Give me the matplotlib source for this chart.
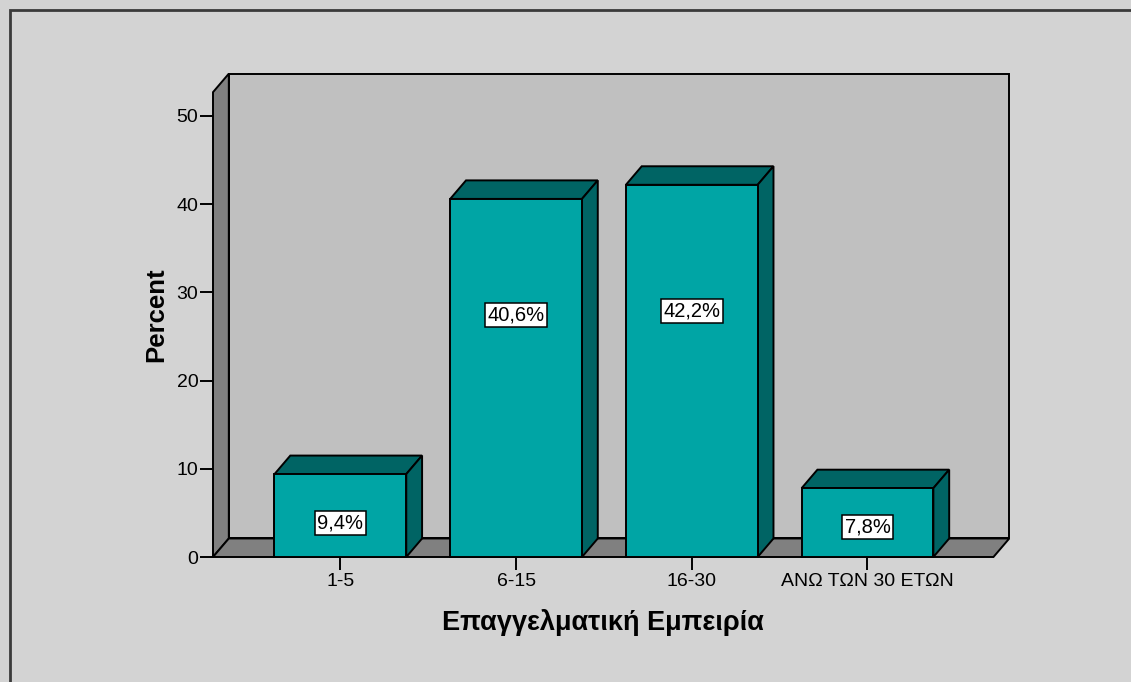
import matplotlib.pyplot as plt
from matplotlib.patches import Polygon, Rectangle

plt.rcParams['font.family'] = ['Liberation Sans', 'DejaVu Sans']

# Επαγγελματική εμπειρία (έτη) - ποσοστά
categories = ['1-5', '6-15', '16-30', 'ΑΝΩ ΤΩΝ 30 ΕΤΩΝ']
percent = [9.4, 40.6, 42.2, 7.8]
label_pos = [3.9, 27.4, 27.9, 3.4]   # ύψος ετικέτας μέσα στη στήλη

front = '#00a5a5'
dark = '#006464'
wall = '#c0c0c0'
side = '#808080'
bg = '#d3d3d3'

fig = plt.figure(figsize=(11.31, 6.82), dpi=100, facecolor=bg)
# πλαίσιο γύρω από το γράφημα
fig.patches.append(Rectangle((10 / 1131, -0.01), 1.02, 1 - 10 / 682 + 0.01,
                             transform=fig.transFigure, fill=False,
                             edgecolor='#3a3a3a', linewidth=2))

xmin, xmax = -0.725, 3.717
ymax = 55
ax = fig.add_axes([213 / 1131, (682 - 557) / 682,
                   (xmax - xmin) * 175.7 / 1131, ymax * 8.82 / 682])
ax.set_xlim(xmin, xmax)
ax.set_ylim(0, ymax)
ax.set_facecolor('none')
for s in ax.spines.values():
    s.set_visible(False)

dx, dy = 0.09, 2.1     # βάθος της τρισδιάστατης όψης
top = 52.7
lw = 1.4

# πίσω τοίχος, πλαϊνός τοίχος και δάπεδο
ax.add_patch(Polygon([(xmin + dx, dy), (xmax + dx, dy), (xmax + dx, top + dy),
                      (xmin + dx, top + dy)], closed=True, facecolor=wall,
                     edgecolor='black', lw=lw, clip_on=False, zorder=1))
ax.add_patch(Polygon([(xmin, 0), (xmin + dx, dy), (xmin + dx, top + dy),
                      (xmin, top)], closed=True, facecolor=side,
                     edgecolor='black', lw=lw, clip_on=False, zorder=2))
ax.add_patch(Polygon([(xmin, 0), (xmax, 0), (xmax + dx, dy), (xmin + dx, dy)],
                     closed=True, facecolor=side, edgecolor='black', lw=lw,
                     clip_on=False, zorder=2))

w = 0.75
for i, v in enumerate(percent):
    l, r = i - w / 2, i + w / 2
    ax.add_patch(Polygon([(l, v), (r, v), (r + dx, v + dy), (l + dx, v + dy)],
                         closed=True, facecolor=dark, edgecolor='black',
                         lw=lw, clip_on=False, zorder=3))
    ax.add_patch(Polygon([(r, 0), (r + dx, dy), (r + dx, v + dy), (r, v)],
                         closed=True, facecolor=dark, edgecolor='black',
                         lw=lw, clip_on=False, zorder=3))
    ax.add_patch(Rectangle((l, 0), w, v, facecolor=front, edgecolor='black',
                           lw=lw, clip_on=False, zorder=4))
    ax.text(i, label_pos[i], f'{v:.1f}%'.replace('.', ','), ha='center',
            va='center', fontsize=14.5, zorder=5,
            bbox=dict(boxstyle='square,pad=0.12', facecolor='white',
                      edgecolor='black', lw=1.1))

ax.set_xticks(range(len(categories)))
ax.set_xticklabels(categories)
ax.set_yticks(range(0, 51, 10))
ax.tick_params(axis='both', direction='out', length=9.5, width=1.4,
               labelsize=14, colors='black')
ax.tick_params(axis='x', pad=2)
ax.tick_params(axis='y', pad=1)

ax.set_ylabel('Percent', fontsize=18.5, fontweight='bold', labelpad=6)
ax.set_xlabel('Επαγγελματική Εμπειρία', fontsize=19.5, fontweight='bold',
              labelpad=14)

fig.savefig('out.png', dpi=100, facecolor=bg)
